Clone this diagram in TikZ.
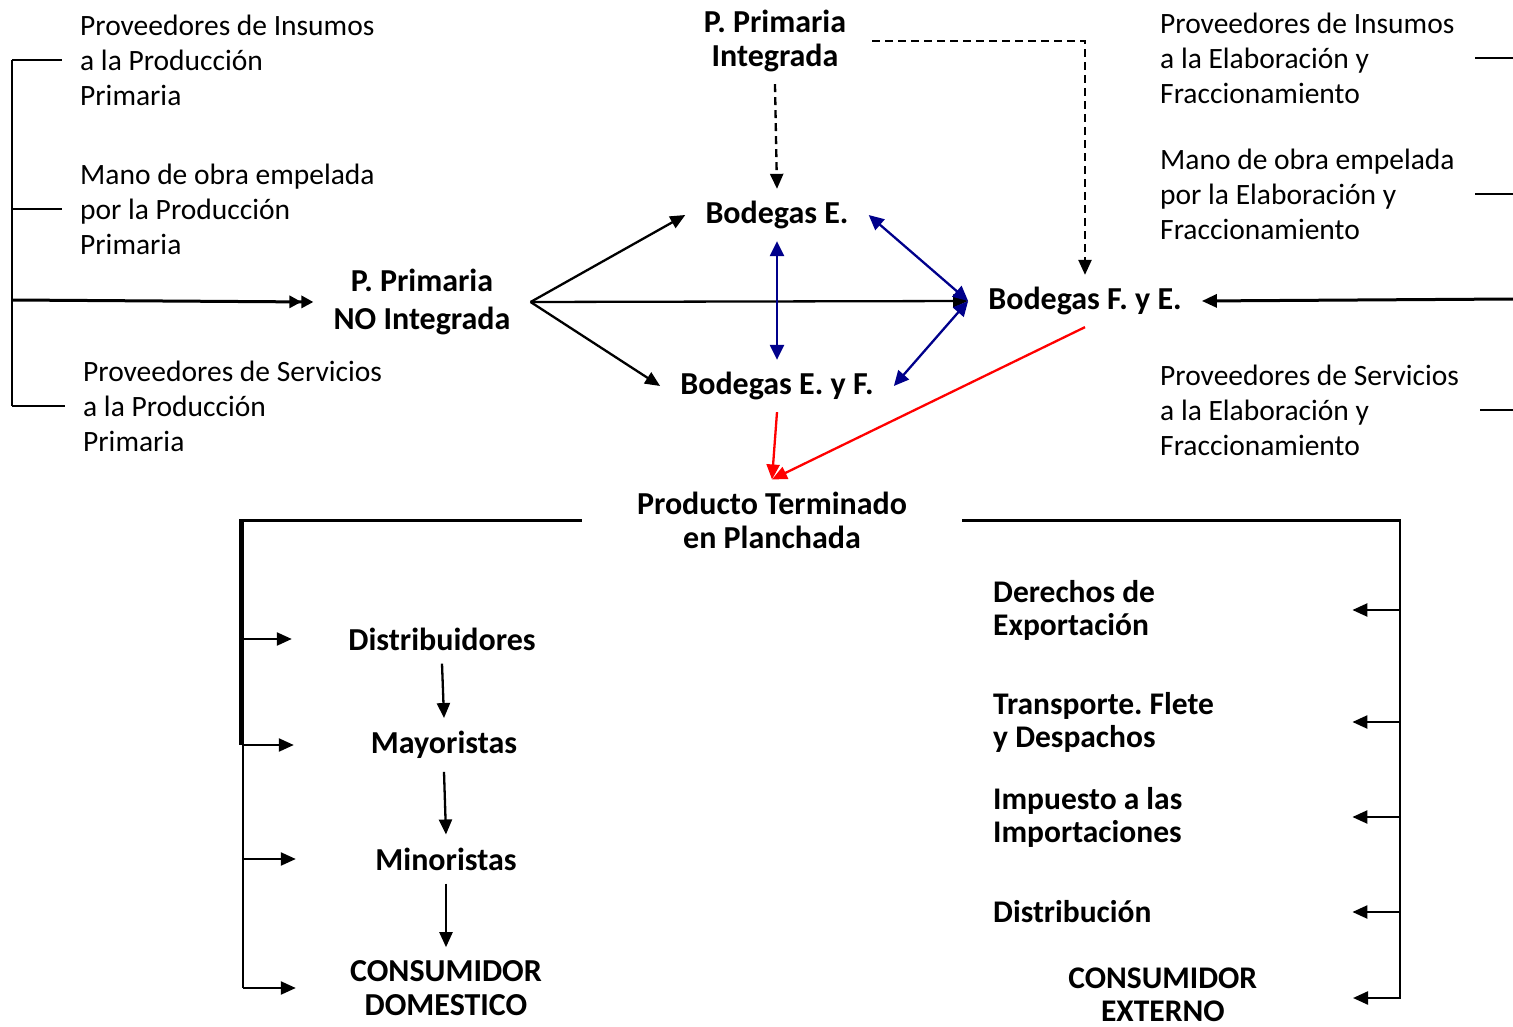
\documentclass[tikz,border=0pt]{standalone}
\usepackage{fontspec}
\setmainfont{Carlito}
\usepackage{tikz}
\usetikzlibrary{arrows.meta}
\usepackage{xcolor}
\definecolor{bodblue}{RGB}{0,0,139}
\frenchspacing

\begin{document}
\begin{tikzpicture}[x=1pt,y=-1pt,
  txt/.style={font=\fontsize{29.5}{35}\selectfont, inner xsep=18pt, inner ysep=0pt, align=left, anchor=west},
  rtxt/.style={font=\fontsize{29.5}{35}\selectfont, inner sep=0pt, text width=315pt, align=flush left, anchor=west},
  bold/.style={font=\fontsize{32}{34}\selectfont\bfseries, align=center, inner xsep=20pt, inner ysep=12pt},
  chain/.style={bold, minimum width=300pt, inner ysep=13pt},
  cost/.style={font=\fontsize{31.5}{33}\selectfont\bfseries, inner sep=0pt, text width=359pt, align=flush left, anchor=west},
  arr/.style={-{Triangle[length=15pt,width=13pt]}, line width=2.3pt},
  dblarr/.style={{Triangle[length=15pt,width=14pt]}-{Triangle[length=15pt,width=14pt]}, line width=2.3pt, bodblue},
  dashline/.style={dash pattern=on 8pt off 5pt},
  brace/.style={line width=2.6pt}]
\useasboundingbox (0,0) rectangle (1513,1027);

% Primary production inputs
\node[txt] (ins) at (62,60) {Proveedores de Insumos\\a la Producción\\Primaria};
\node[txt] (mano) at (62,209) {Mano de obra empelada\\por la Producción\\Primaria};
\node[txt] (serv) at (65,406) {Proveedores de Servicios\\a la Producción\\Primaria};
\coordinate (lb) at (12,300);
\draw[brace] (ins.west -| lb) -- (ins.west);
\draw[brace] (mano.west -| lb) -- (mano.west);
\draw[brace] (serv.west -| lb) -- (serv.west);
\draw[brace] (ins.west -| lb) -- (serv.west -| lb);

% Warehouses
\node[bold, font=\fontsize{32}{38}\selectfont\bfseries] (npi) at (422,302) {P. Primaria\\NO Integrada};
\node[bold] (pi) at (775,41) {P. Primaria\\Integrada};
\node[bold] (be) at (777,215) {Bodegas E.};
\node[bold] (bef) at (777,386) {Bodegas E. y F.};
\node[bold] (bfe) at (1085,301) {Bodegas F. y E.};
\node[bold, inner xsep=55pt] (pt) at (772,520) {Producto Terminado\\en Planchada};

\draw[line width=3pt, -{Triangle[length=12pt,width=12pt]Triangle[length=12pt,width=12pt]}] (lb) -- (npi.west);
\draw[arr] (npi.east) -- (be.west);
\draw[arr] (npi.east) -- (bef.west);
\draw[arr] (npi.east) -- (bfe.west);
\draw[dblarr] (be.south) -- (bef.north);
\draw[dblarr] (be.east) -- (bfe.west);
\draw[dblarr] (bef.east) -- (bfe.west);
\draw[arr, dashline] (pi.south) -- (be.north);
\draw[arr, dashline] ([xshift=6pt]pi.east) -| (bfe.north);
\draw[arr, red] (bef.south) -- (pt.north);
\draw[arr, red] (bfe.south) -- (pt.north);

% Processing inputs
\node[rtxt] (rins) at (1160,58) {Proveedores de Insumos\\a la Elaboración y\\Fraccionamiento};
\node[rtxt] (rmano) at (1160,194) {Mano de obra empelada\\por la Elaboración y\\Fraccionamiento};
\node[rtxt] (rserv) at (1160,410) {Proveedores de Servicios\\a la Elaboración y\\Fraccionamiento};
\coordinate (rx) at (1513,299);
\draw[brace] (rins.east) -- (rins.east -| rx);
\draw[brace] (rmano.east) -- (rmano.east -| rx);
\draw[brace] ([xshift=5pt]rserv.east) -- (rserv.east -| rx);
\draw[arr, line width=3pt] (rx) -- (bfe.east);

% Domestic market
\coordinate (lc) at (243,520);
\node[chain] (dis) at (442,639) {Distribuidores};
\node[chain] (may) at (444,745) {Mayoristas};
\node[chain] (min) at (446,859) {Minoristas};
\node[chain] (cd) at (446,988) {CONSUMIDOR\\DOMESTICO};
\draw[line width=3pt] (pt.west) -- ([xshift=-4pt]lc);
\draw[line width=5pt] ([xshift=-2pt]lc) -- ([xshift=-2pt]lc |- may.west);
\draw[brace] (lc) -- (lc |- cd.west);
\draw[arr] (dis.west -| lc) -- (dis.west);
\draw[arr] (may.west -| lc) -- (may.west);
\draw[arr] (min.west -| lc) -- (min.west);
\draw[arr] (cd.west -| lc) -- (cd.west);
\draw[arr] (dis.south) -- (may.north);
\draw[arr] (may.south) -- (min.north);
\draw[arr] (min.south) -- (cd.north);

% Export market
\coordinate (rc) at (1400,520);
\node[cost] (der) at (993,610) {Derechos de\\Exportación};
\node[cost] (tra) at (993,722) {Transporte. Flete\\y Despachos};
\node[cost] (imp) at (993,817) {Impuesto a las\\Importaciones};
\node[cost] (dist) at (993,912) {Distribución};
\node[cost, anchor=east, align=center, text width=380pt] (ce) at (1353,995) {CONSUMIDOR\\EXTERNO};
\draw[line width=3pt] (pt.east) -- ([xshift=1pt]rc);
\draw[brace] (rc) -- ([yshift=-4pt]rc |- ce.east);
\draw[arr] (der.east -| rc) -- (der.east);
\draw[arr] (tra.east -| rc) -- (tra.east);
\draw[arr] (imp.east -| rc) -- (imp.east);
\draw[arr] (dist.east -| rc) -- (dist.east);
\draw[arr] ([yshift=-3pt]ce.east -| rc) -- ([yshift=-3pt]ce.east);
\end{tikzpicture}
\end{document}
